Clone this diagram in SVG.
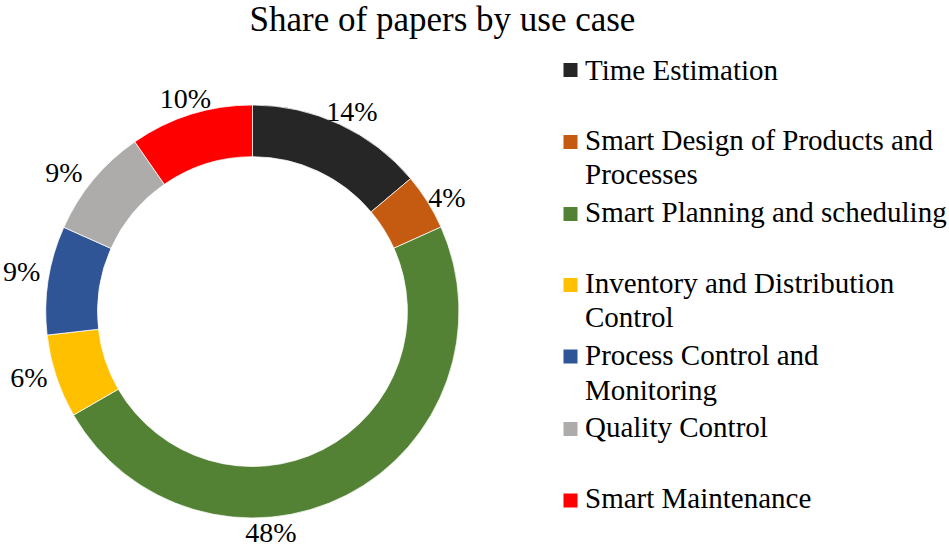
<svg xmlns="http://www.w3.org/2000/svg" width="949" height="546" viewBox="0 0 949 546" font-family="'Liberation Serif', 'DejaVu Serif', serif">
<style>
text{fill:#000}
.title{font-size:35px}
.lbl{font-size:28px;text-anchor:middle}
.leg{font-size:29px}
.seg{stroke:#fff;stroke-width:0.75}
</style>
<rect width="949" height="546" fill="#fff"/>
<text class="title" x="442.5" y="31" text-anchor="middle">Share of papers by use case</text>
<g id="donut">
<g id="seg-time"><path class="seg" fill="#262626" d="M252.5,105 A206.7,206.7 0 0 1 410.6,178.6 L371.1,211.9 A155,155 0 0 0 252.5,156.7 Z"/></g>
<g id="seg-design"><path class="seg" fill="#C55A11" d="M410.6,178.6 A206.7,206.7 0 0 1 441,227 L393.9,248.2 A155,155 0 0 0 371.1,211.9 Z"/></g>
<g id="seg-planning"><path class="seg" fill="#548235" d="M441,227 A206.7,206.7 0 0 1 73.5,415.05 L118.3,389.2 A155,155 0 0 0 393.9,248.2 Z"/></g>
<g id="seg-inventory"><path class="seg" fill="#FFC000" d="M73.5,415.05 A206.7,206.7 0 0 1 47.1,335.1 L98.5,329.2 A155,155 0 0 0 118.3,389.2 Z"/></g>
<g id="seg-process"><path class="seg" fill="#2F5597" d="M47.1,335.1 A206.7,206.7 0 0 1 63.8,227.3 L111,248.4 A155,155 0 0 0 98.5,329.2 Z"/></g>
<g id="seg-quality"><path class="seg" fill="#AEABAB" d="M63.8,227.3 A206.7,206.7 0 0 1 134.8,141.8 L164.3,184.3 A155,155 0 0 0 111,248.4 Z"/></g>
<g id="seg-maint"><path class="seg" fill="#FF0000" d="M134.8,141.8 A206.7,206.7 0 0 1 252.5,105 L252.5,156.7 A155,155 0 0 0 164.3,184.3 Z"/></g>
</g>
<g id="labels">
<text class="lbl" x="352" y="120.5">14%</text>
<text class="lbl" x="447" y="206.5">4%</text>
<text class="lbl" x="271" y="541.5">48%</text>
<text class="lbl" x="29" y="387.3">6%</text>
<text class="lbl" x="21.7" y="280.7">9%</text>
<text class="lbl" x="64" y="182.3">9%</text>
<text class="lbl" x="185.5" y="108.3">10%</text>
</g>
<g id="legend">
<g id="leg-time"><rect x="563.5" y="63" width="14" height="14" fill="#262626"/><text class="leg" x="585" y="79.5">Time Estimation</text></g>
<g id="leg-design"><rect x="563.5" y="135" width="14" height="14" fill="#C55A11"/><text class="leg" x="585" y="150">Smart Design of Products and</text><text class="leg" x="585" y="183.5">Processes</text></g>
<g id="leg-planning"><rect x="563.5" y="207" width="14" height="14" fill="#548235"/><text class="leg" x="585" y="221.5">Smart Planning and scheduling</text></g>
<g id="leg-inventory"><rect x="563.5" y="278" width="14" height="14" fill="#FFC000"/><text class="leg" x="585" y="293">Inventory and Distribution</text><text class="leg" x="585" y="327">Control</text></g>
<g id="leg-process"><rect x="563.5" y="349.5" width="14" height="14" fill="#2F5597"/><text class="leg" x="585" y="365">Process Control and</text><text class="leg" x="585" y="399.5">Monitoring</text></g>
<g id="leg-quality"><rect x="563.5" y="422" width="14" height="14" fill="#AEABAB"/><text class="leg" x="585" y="436.5">Quality Control</text></g>
<g id="leg-maint"><rect x="563.5" y="493.5" width="14" height="14" fill="#FF0000"/><text class="leg" x="585" y="508">Smart Maintenance</text></g>
</g>
</svg>
